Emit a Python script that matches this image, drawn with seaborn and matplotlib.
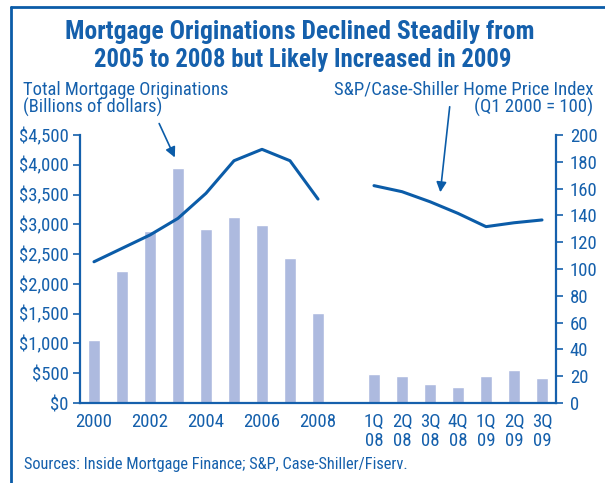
import numpy as np
import pandas as pd
import matplotlib
matplotlib.use("Agg")
import matplotlib.pyplot as plt
from matplotlib import font_manager
from matplotlib.lines import Line2D
from matplotlib.patches import FancyArrowPatch
import seaborn as sns

# data
years = ["2000", "2001", "2002", "2003", "2004", "2005", "2006", "2007", "2008"]
quarters = ["1Q\n08", "2Q\n08", "3Q\n08", "4Q\n08", "1Q\n09", "2Q\n09", "3Q\n09"]
orig_annual = [1055, 2215, 2885, 3940, 2920, 3120, 2985, 2435, 1510]
orig_quarter = [487, 453, 319, 269, 453, 554, 420]
hpi_annual = [105.4, 115.4, 125.4, 137.8, 156.5, 180.8, 189.3, 180.8, 152.2]
hpi_quarter = [162.2, 157.7, 150.2, 141.5, 131.6, 134.5, 136.6]

blue = "#1560ac"
line_blue = "#0b5ca8"
bar_col = "#adbadf"

sns.set_style("white")

# pick the narrowest family that is actually installed
installed = {f.name: f for f in font_manager.fontManager.ttflist}
condensed = [f for f in font_manager.fontManager.ttflist
             if "ondensed" in f.name or f.stretch in ("condensed", "semi-condensed")]
family = None
for name in ["Liberation Sans Narrow", "Roboto Condensed", "Open Sans Condensed",
             "DejaVu Sans Condensed"]:
    if name in installed:
        family = name
        break
if family is None and condensed:
    family = condensed[0].name
    plt.rcParams['font.stretch'] = condensed[0].stretch
if family is None:
    family = "Roboto"
plt.rcParams['font.family'] = [family, 'DejaVu Sans']

# one empty slot between the annual and the quarterly bars
gap = " "
cats = years + [gap] + quarters
pos = {c: i for i, c in enumerate(cats)}
df = pd.DataFrame({"cat": cats,
                   "orig": orig_annual + [np.nan] + orig_quarter})

fig = plt.figure(figsize=(6.05, 4.83), dpi=100)
ax = fig.add_axes([80/605, 1-403/483, 476/605, 268/483])

sns.barplot(data=df, x="cat", y="orig", order=cats, color=bar_col,
            width=0.44, saturation=1, ax=ax)
ax.set_xlim(-0.5, len(cats) - 0.5)
ax.set_ylim(0, 4500)
ax.set_yticks(np.arange(0, 4501, 500))
ax.set_yticklabels([f"${v:,}" for v in range(0, 4501, 500)])
ax.set_xlabel("")
ax.set_ylabel("")

label_pos = [pos[y] for y in years[::2]] + [pos[q] for q in quarters]
ax.set_xticks(label_pos)
ax.set_xticklabels(years[::2] + quarters)
ax.set_xticks(np.arange(-0.5, len(cats)), minor=True)
ax.tick_params(axis="x", which="major", length=0, labelsize=13.5,
               labelcolor=blue, pad=7)
ax.tick_params(axis="x", which="minor", length=7, direction="inout",
               color=blue, width=1.2)
ax.tick_params(axis="y", length=5, direction="out", color=blue, width=1.2,
               labelsize=13.5, labelcolor=blue, pad=3, left=True)
for t in ax.get_xticklabels():
    t.set_linespacing(1.1)

ax2 = ax.twinx()
sns.lineplot(x=[pos[y] for y in years], y=hpi_annual, color=line_blue,
             linewidth=2.2, sort=False, ax=ax2)
sns.lineplot(x=[pos[q] for q in quarters], y=hpi_quarter, color=line_blue,
             linewidth=2.2, sort=False, ax=ax2)
ax2.set_ylim(0, 200)
ax2.set_yticks(range(0, 201, 20))
ax2.tick_params(axis="y", length=5, direction="out", color=blue, width=1.2,
                labelsize=13.5, labelcolor=blue, pad=5, right=True)

for a in (ax, ax2):
    for s in a.spines.values():
        s.set_visible(False)
ax.spines["left"].set_visible(True)
ax.spines["bottom"].set_visible(True)
ax2.spines["right"].set_visible(True)
for s in (ax.spines["left"], ax.spines["bottom"], ax2.spines["right"]):
    s.set_color(blue)
    s.set_linewidth(1.6)

renderer = fig.canvas.get_renderer()


def put(x, y, s, width, ha="left", bold=False, max_size=18):
    # place a text and shrink it until it spans the measured width
    t = fig.text(x/605, 1-y/483, s, ha=ha, va="center", color=blue,
                 fontsize=max_size, fontweight="bold" if bold else "normal")
    w = t.get_window_extent(renderer).width
    if w > width:
        t.set_fontsize(max_size * width / w)
    return t


put(300, 32, "Mortgage Originations Declined Steadily from", 470,
    ha="center", bold=True, max_size=24)
put(303, 60, "2005 to 2008 but Likely Increased in 2009", 418,
    ha="center", bold=True, max_size=24)
left1 = put(23, 90, "Total Mortgage Originations", 204, max_size=16)
put(23, 107, "(Billions of dollars)", 300, max_size=left1.get_fontsize())
right1 = put(593, 90, "S&P/Case-Shiller Home Price Index", 260, ha="right",
             max_size=16)
put(593, 107, "(Q1 2000 = 100)", 300, ha="right",
    max_size=right1.get_fontsize())
put(24, 465, "Sources: Inside Mortgage Finance; S&P, Case-Shiller/Fiserv.", 386,
    max_size=15)

# pointer arrows
for (x0, y0), (x1, y1) in [((158, 121), (176, 160)), ((450, 104), (440, 195))]:
    fig.add_artist(FancyArrowPatch((x0/605, 1-y0/483), (x1/605, 1-y1/483),
                                   transform=fig.transFigure,
                                   arrowstyle="-|>,head_length=6,head_width=3",
                                   color=line_blue, lw=1.2))

# frame lines at top and left
fig.add_artist(Line2D([11/605, 1], [1-7/483, 1-7/483],
                      transform=fig.transFigure, color=line_blue, lw=2))
fig.add_artist(Line2D([11/605, 11/605], [0, 1-7/483],
                      transform=fig.transFigure, color=line_blue, lw=2))

fig.savefig("out.png", dpi=100)
